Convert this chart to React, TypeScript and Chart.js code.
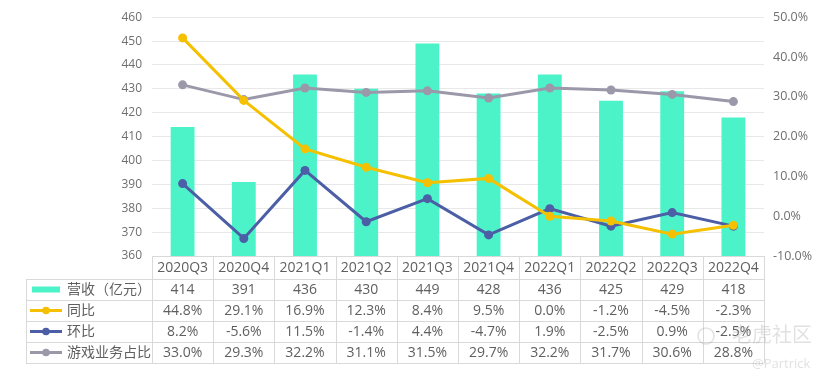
import React, { useEffect, useRef } from "react";
import { Chart, registerables } from "chart.js";

Chart.register(...registerables);

const categories = ["2020Q3", "2020Q4", "2021Q1", "2021Q2", "2021Q3", "2021Q4", "2022Q1", "2022Q2", "2022Q3", "2022Q4"];
const revenue = [414, 391, 436, 430, 449, 428, 436, 425, 429, 418];
const yoy = [44.8, 29.1, 16.9, 12.3, 8.4, 9.5, 0.0, -1.2, -4.5, -2.3];
const qoq = [8.2, -5.6, 11.5, -1.4, 4.4, -4.7, 1.9, -2.5, 0.9, -2.5];
const gameShare = [33.0, 29.3, 32.2, 31.1, 31.5, 29.7, 32.2, 31.7, 30.6, 28.8];

const seriesNames = ["营收（亿元）", "同比", "环比", "游戏业务占比"];
const colors = ["#4DF3C8", "#F5C000", "#4B5EA6", "#9B98AA"];

const FONT = "'Open Sans', 'Noto Sans CJK SC', sans-serif";
const TEXT = "#5F5F5F";

const tablePlugin = {
  id: "dataTable",
  afterDraw(chart: any) {
    const ctx = chart.ctx as CanvasRenderingContext2D;
    const xs = chart.scales.x;
    const area = chart.chartArea;
    const half = (xs.getPixelForValue(1) - xs.getPixelForValue(0)) / 2;
    const left = area.left;
    const right = area.right;
    const tableLeft = 26;
    const top = area.bottom;
    const headerH = 23;
    const rowH = 21;
    const rows = [
      revenue.map((v) => String(v)),
      yoy.map((v) => v.toFixed(1) + "%"),
      qoq.map((v) => v.toFixed(1) + "%"),
      gameShare.map((v) => v.toFixed(1) + "%"),
    ];
    ctx.save();
    ctx.strokeStyle = "#D9D9D9";
    ctx.lineWidth = 1;
    const bottom = top + headerH + rowH * rows.length;
    const hline = (y: number, x0: number, x1: number) => {
      ctx.beginPath();
      ctx.moveTo(x0, Math.round(y) + 0.5);
      ctx.lineTo(x1, Math.round(y) + 0.5);
      ctx.stroke();
    };
    const vline = (x: number, y0: number, y1: number) => {
      ctx.beginPath();
      ctx.moveTo(Math.round(x) + 0.5, y0);
      ctx.lineTo(Math.round(x) + 0.5, y1);
      ctx.stroke();
    };
    hline(top, left, right);
    for (let r = 0; r <= rows.length; r++) {
      hline(top + headerH + r * rowH, tableLeft, right);
    }
    vline(tableLeft, top + headerH, bottom);
    for (let i = 0; i < categories.length; i++) {
      vline(xs.getPixelForValue(i) - half, top, bottom);
    }
    vline(xs.getPixelForValue(categories.length - 1) + half, top, bottom);

    ctx.font = "14px " + FONT;
    ctx.fillStyle = TEXT;
    ctx.textAlign = "center";
    ctx.textBaseline = "middle";
    for (let i = 0; i < categories.length; i++) {
      const cx = xs.getPixelForValue(i);
      ctx.fillText(categories[i], cx, top + headerH / 2 + 1);
      for (let r = 0; r < rows.length; r++) {
        ctx.fillText(rows[r][i], cx, top + headerH + r * rowH + rowH / 2 + 1);
      }
    }
    ctx.textAlign = "left";
    for (let r = 0; r < rows.length; r++) {
      const cy = top + headerH + r * rowH + rowH / 2;
      if (r === 0) {
        ctx.fillStyle = colors[0];
        ctx.fillRect(32, cy - 3, 28, 6);
      } else {
        ctx.strokeStyle = colors[r];
        ctx.lineWidth = 3;
        ctx.beginPath();
        ctx.moveTo(30, cy);
        ctx.lineTo(62, cy);
        ctx.stroke();
        ctx.fillStyle = colors[r];
        ctx.beginPath();
        ctx.arc(46, cy, 3.8, 0, Math.PI * 2);
        ctx.fill();
      }
      ctx.fillStyle = TEXT;
      ctx.fillText(seriesNames[r], 67, cy + 1);
    }
    // watermark
    ctx.globalAlpha = 0.3;
    ctx.fillStyle = "#9a9a9a";
    ctx.strokeStyle = "#9a9a9a";
    ctx.lineWidth = 1.5;
    ctx.beginPath();
    ctx.arc(706, 336, 8, 0, Math.PI * 2);
    ctx.stroke();
    ctx.font = "20px " + FONT;
    ctx.fillText("老虎社区", 732, 336);
    ctx.font = "13px " + FONT;
    ctx.fillText("@Partrick", 752, 364);
    ctx.restore();
  },
};

export default function App() {
  const ref = useRef<HTMLCanvasElement>(null);
  useEffect(() => {
    if (!ref.current) return;
    const lineDs = (label: string, data: number[], color: string) => ({
      type: "line" as const,
      label,
      data,
      yAxisID: "y1",
      borderColor: color,
      backgroundColor: color,
      borderWidth: 3,
      pointRadius: 4.5,
      pointBackgroundColor: color,
      pointBorderColor: color,
      pointBorderWidth: 0,
      tension: 0,
      order: 1,
    });
    const chart = new Chart(ref.current, {
      type: "bar",
      data: {
        labels: categories,
        datasets: [
          {
            type: "bar",
            label: seriesNames[0],
            data: revenue,
            yAxisID: "y",
            backgroundColor: colors[0],
            categoryPercentage: 1,
            barPercentage: 0.39,
            order: 2,
          },
          lineDs(seriesNames[1], yoy, colors[1]),
          lineDs(seriesNames[2], qoq, colors[2]),
          lineDs(seriesNames[3], gameShare, colors[3]),
        ],
      },
      options: {
        animation: false,
        responsive: false,
        layout: { padding: { left: 0, right: 0, top: 17, bottom: 127 } },
        plugins: { legend: { display: false }, tooltip: { enabled: false } },
        scales: {
          x: { display: false, offset: true },
          y: {
            position: "left",
            min: 360,
            max: 460,
            ticks: { stepSize: 10, color: "#6F6F6F", font: { size: 12, family: FONT }, padding: 10 },
            grid: { color: "#E8E8E8", drawTicks: false },
            border: { display: false },
            afterFit: (s: any) => {
              s.width = 152;
            },
          },
          y1: {
            position: "right",
            min: -10,
            max: 50,
            ticks: {
              stepSize: 10,
              color: "#6F6F6F",
              font: { size: 12.5, family: FONT },
              padding: 9,
              callback: (v: any) => Number(v).toFixed(1) + "%",
            },
            grid: { display: false, drawTicks: false },
            border: { display: false },
            afterFit: (s: any) => {
              s.width = 66;
            },
          },
        },
      },
      plugins: [tablePlugin],
    });
    return () => chart.destroy();
  }, []);
  return (
    <div style={{ position: "fixed", left: 0, top: 0, width: 830, height: 383, background: "#fff" }}>
      <canvas ref={ref} width={830} height={383} style={{ width: 830, height: 383, display: "block" }} />
    </div>
  );
}
